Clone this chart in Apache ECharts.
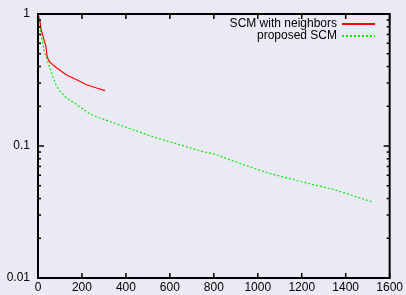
<!DOCTYPE html>
<html>
<head>
<meta charset="utf-8">
<script src="https://cdn.jsdelivr.net/npm/echarts@6/dist/echarts.min.js"></script>
<style>
  html, body { margin: 0; padding: 0; background: #eaeaf4; }
  #chart { width: 406px; height: 295px; }
</style>
</head>
<body>
<div id="chart"></div>
<script>
// data
const xTicks = [0, 200, 400, 600, 800, 1000, 1200, 1400, 1600];
const yMajor = [0.01, 0.1, 1];
const yMinor = [0.02, 0.03, 0.04, 0.05, 0.06, 0.07, 0.08, 0.09,
  0.2, 0.3, 0.4, 0.5, 0.6, 0.7, 0.8, 0.9];

const neighborsX = [0, 4, 9, 14, 21, 29, 36, 41, 46, 55, 77, 100, 130, 176, 221, 267, 305];
const neighborsY = [1, 0.97, 0.88, 0.76, 0.70, 0.62, 0.57, 0.48, 0.455, 0.43, 0.40, 0.375, 0.345, 0.318, 0.291, 0.275, 0.263];

const proposedX = [0, 4, 9, 18, 29, 44, 59, 82, 100, 130, 176, 236, 282, 388, 540, 691, 736, 812, 888, 1039, 1191, 1342, 1521];
const proposedY = [1, 0.93, 0.78, 0.64, 0.52, 0.44, 0.37, 0.29, 0.26, 0.231, 0.206, 0.175, 0.163, 0.141, 0.115, 0.097, 0.092, 0.086, 0.077, 0.063, 0.054, 0.047, 0.0377];

const zip = (xs, ys) => xs.map((x, i) => [x, ys[i]]);
const font = 'Liberation Sans';
const xMin = 0, xMax = 1600, yMin = 0.01, yMax = 1;

const chart = echarts.init(document.getElementById('chart'));

// axis ticks did not render reliably, so draw them (gnuplot style, inside, all four sides)
const tickStyle = { stroke: '#000', lineWidth: 1.5 };
const seg = (x1, y1, x2, y2) => ({ type: 'line', shape: { x1, y1, x2, y2 }, style: tickStyle });

const xTickRender = (params, api) => {
  const v = api.value(0);
  const b = api.coord([v, yMin]);
  const t = api.coord([v, yMax]);
  return { type: 'group', children: [seg(b[0], b[1], b[0], b[1] - 5), seg(t[0], t[1], t[0], t[1] + 5)] };
};
const yTickRender = len => (params, api) => {
  const v = api.value(1);
  const l = api.coord([xMin, v]);
  const r = api.coord([xMax, v]);
  return { type: 'group', children: [seg(l[0], l[1], l[0] + len, l[1]), seg(r[0], r[1], r[0] - len, r[1])] };
};

const option = {
  backgroundColor: '#eaeaf4',
  animation: false,
  textStyle: { fontFamily: font },
  grid: { left: 38, right: 16, top: 14, bottom: 17, show: true,
    backgroundColor: 'transparent', borderColor: '#000', borderWidth: 2 },
  legend: {
    orient: 'vertical',
    right: 30, top: 18, padding: 0,
    align: 'right',
    itemWidth: 33, itemHeight: 8, itemGap: 0,
    itemStyle: { opacity: 0, borderWidth: 0 },
    textStyle: { fontFamily: font, fontSize: 12, color: '#000', lineHeight: 11 },
    data: ['SCM with neighbors', 'proposed SCM']
  },
  xAxis: {
    type: 'value', min: xMin, max: xMax, interval: 200,
    splitLine: { show: false },
    axisLine: { show: false, onZero: false },
    axisTick: { show: false },
    axisLabel: { show: true, color: '#000', fontSize: 12, fontFamily: font, margin: 4,
      formatter: v => String(v) }
  },
  yAxis: {
    type: 'log', logBase: 10, min: yMin, max: yMax,
    splitLine: { show: false },
    axisLine: { show: false, onZero: false },
    axisTick: { show: false },
    axisLabel: { show: true, color: '#000', fontSize: 12, fontFamily: font, margin: 8,
      formatter: v => String(+v.toPrecision(2)) }
  },
  series: [
    {
      name: 'SCM with neighbors',
      type: 'line',
      symbol: 'none',
      itemStyle: { color: '#ff0000' },
      lineStyle: { color: '#ff0000', width: 1.2 },
      data: zip(neighborsX, neighborsY)
    },
    {
      name: 'proposed SCM',
      type: 'line',
      symbol: 'none',
      itemStyle: { color: '#00ee00' },
      lineStyle: { color: '#00ee00', width: 1.2, type: [2, 2] },
      data: zip(proposedX, proposedY)
    },
    {
      type: 'custom', silent: true, z: 5,
      renderItem: xTickRender,
      data: xTicks.map(v => [v, yMax])
    },
    {
      type: 'custom', silent: true, z: 5,
      renderItem: yTickRender(6),
      data: yMajor.map(v => [xMin, v])
    },
    {
      type: 'custom', silent: true, z: 5,
      renderItem: yTickRender(3),
      data: yMinor.map(v => [xMin, v])
    }
  ]
};

chart.setOption(option);
</script>
</body>
</html>
